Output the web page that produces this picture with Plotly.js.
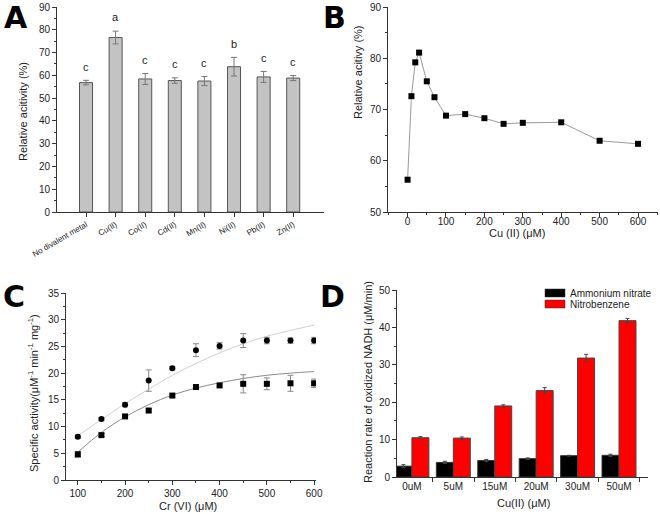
<!DOCTYPE html>
<html>
<head>
<meta charset="utf-8">
<script src="https://cdn.plot.ly/plotly-3.0.1.min.js"></script>
<style>html,body{margin:0;padding:0;background:#fff}#chart{width:660px;height:514px}</style>
</head>
<body>
<div id="chart"></div>
<script>
// Panel A
const metals = ["No divalent metal","Cu(II)","Co(II)","Cd(II)","Mn(II)","Ni(II)","Pb(II)","Zn(II)"];
const metalActivity = [56.8, 76.6, 58.4, 57.7, 57.5, 63.8, 59.3, 58.8];
const metalErr = [1.0, 2.8, 2.4, 1.2, 2.0, 4.1, 2.4, 1.1];
const metalLetters = ["c","a","c","c","c","b","c","c"];

// Panel B
const cuConc = [0, 10, 20, 30, 50, 70, 100, 150, 200, 250, 300, 400, 500, 600];
const cuActivity = [56.3, 72.6, 79.2, 81.1, 75.5, 72.4, 68.8, 69.1, 68.3, 67.2, 67.4, 67.5, 63.9, 63.3];

// Panel C
const crConc = [100, 150, 200, 250, 300, 350, 400, 450, 500, 550, 600];
const circleAct = [8.1, 11.4, 14.1, 18.6, 20.9, 24.3, 25.1, 26.1, 26.1, 26.1, 26.1];
const circleErr = [0.3, 0.3, 0.4, 2.0, 0.3, 1.2, 0.6, 1.3, 0.6, 0.5, 0.6];
const squareAct = [4.8, 8.4, 11.9, 13.0, 15.8, 17.4, 17.7, 18.0, 18.0, 18.1, 18.1];
const squareErr = [0.5, 0.3, 0.3, 0.3, 0.3, 0.3, 0.3, 1.7, 1.1, 1.5, 0.8];
const upperFit = [8.3, 11.3, 14.3, 17.0, 19.6, 21.8, 23.8, 25.5, 26.9, 28.0, 29.0];
const lowerFit = [5.2, 8.9, 11.8, 14.1, 15.9, 17.2, 18.2, 19.0, 19.6, 20.0, 20.3];

// Panel D
const cuLevels = ["0uM","5uM","15uM","20uM","30uM","50uM"];
const seriesNames = ["Ammonium nitrate", "Nitrobenzene"];
const ammonium = [2.9, 3.9, 4.4, 4.9, 5.7, 5.8];
const ammoniumErr = [0.4, 0.3, 0.3, 0.2, 0.1, 0.3];
const nitrobenzene = [10.5, 10.4, 19.0, 23.1, 31.8, 41.8];
const nitroErr = [0.3, 0.3, 0.3, 0.8, 1.0, 0.6];

const W = 660, H = 514;
const px = (a, b) => [a / W, b / W];
const py = (top, bot) => [1 - bot / H, 1 - top / H];
const F = "Liberation Sans, Arial, sans-serif";
const axBase = {
  showline: true, linecolor: "#333", linewidth: 1, ticks: "outside", ticklen: 4,
  tickcolor: "#333", showgrid: false, zeroline: false, mirror: false,
  tickfont: {family: F, size: 10, color: "#222"}
};
const barColors = ["#000000", "#ff0000"];

const traces = [
  {type: "bar", x: metals, y: metalActivity, xaxis: "x", yaxis: "y", width: 0.44,
   marker: {color: "#c3c3c3", line: {color: "#555", width: 1}},
   error_y: {type: "data", array: metalErr, visible: true, color: "#777", thickness: 1, width: 3}},
  {type: "scatter", mode: "lines+markers", x: cuConc, y: cuActivity, xaxis: "x2", yaxis: "y2",
   line: {color: "#9a9a9a", width: 1}, marker: {symbol: "square", size: 6, color: "#000"}},
  {type: "scatter", mode: "lines", x: crConc, y: upperFit, xaxis: "x3", yaxis: "y3",
   line: {color: "#d0d0d0", width: 1, shape: "spline"}},
  {type: "scatter", mode: "lines", x: crConc, y: lowerFit, xaxis: "x3", yaxis: "y3",
   line: {color: "#8a8a8a", width: 1, shape: "spline"}},
  {type: "scatter", mode: "markers", x: crConc, y: circleAct, xaxis: "x3", yaxis: "y3",
   marker: {symbol: "circle", size: 6, color: "#000"},
   error_y: {type: "data", array: circleErr, visible: true, color: "#888", thickness: 1, width: 3}},
  {type: "scatter", mode: "markers", x: crConc, y: squareAct, xaxis: "x3", yaxis: "y3",
   marker: {symbol: "square", size: 6, color: "#000"},
   error_y: {type: "data", array: squareErr, visible: true, color: "#888", thickness: 1, width: 3}},
  {type: "bar", name: seriesNames[0], x: cuLevels, y: ammonium, xaxis: "x4", yaxis: "y4",
   marker: {color: barColors[0], line: {color: "#333", width: 1}},
   error_y: {type: "data", array: ammoniumErr, visible: true, color: "#444", thickness: 1, width: 2}},
  {type: "bar", name: seriesNames[1], x: cuLevels, y: nitrobenzene, xaxis: "x4", yaxis: "y4",
   marker: {color: barColors[1], line: {color: "#444", width: 1}},
   error_y: {type: "data", array: nitroErr, visible: true, color: "#444", thickness: 1, width: 2}}
];

const annotations = [];
const label = (t, x, y) => annotations.push({text: "<b>" + t + "</b>", xref: "paper", yref: "paper",
  x: x / W, y: 1 - y / H, showarrow: false, xanchor: "center", yanchor: "middle",
  font: {family: "DejaVu Sans, Liberation Sans, sans-serif", size: 30, color: "#000"}});
label("A", 16, 18);
label("B", 334, 18);
label("C", 14, 296);
label("D", 332, 296);

const title = (t, x, y, angle) => annotations.push({text: t, xref: "paper", yref: "paper",
  x: x / W, y: 1 - y / H, showarrow: false, xanchor: "center", yanchor: "middle", textangle: angle,
  font: {family: F, size: 11, color: "#222"}});
title("Relative acitivity (%)", 23, 112, -90);
title("Relative acitivy (%)", 358, 72, -90);
title("Cu (II) (μM)", 517, 233, 0);
title("Specific activity(μM<sup>-1</sup> min<sup>-1</sup> mg<sup>-1</sup>)", 33, 393, -90);
title("Cr (VI) (μM)", 188, 506, 0);
title("Reaction rate of oxidized NADH (μM/min)", 368, 382, -90);
title("Cu(II) (μM)", 523, 503, 0);

metals.forEach((m, i) => annotations.push({text: metalLetters[i], x: m, y: metalActivity[i] + metalErr[i] + 6,
  xref: "x", yref: "y", showarrow: false, yanchor: "middle",
  font: {family: F, size: 11, color: "#222"}}));

// custom legend for panel D
const shapes = [];
seriesNames.forEach((n, i) => {
  const top = 289 + i * 11;
  shapes.push({type: "rect", xref: "paper", yref: "paper",
    x0: 545 / W, x1: 565 / W, y0: 1 - (top + 8) / H, y1: 1 - top / H,
    fillcolor: barColors[i], line: {color: "#333", width: 0.5}});
  annotations.push({text: n, xref: "paper", yref: "paper", x: 568 / W, y: 1 - (top + 4) / H,
    showarrow: false, xanchor: "left", yanchor: "middle", font: {family: F, size: 10, color: "#222"}});
});

const layout = {
  width: W, height: H, margin: {l: 0, r: 0, t: 0, b: 0},
  paper_bgcolor: "#fff", plot_bgcolor: "#fff",
  font: {family: F, color: "#222"},
  showlegend: false,
  barmode: "group", bargap: 0.18, bargroupgap: 0,
  xaxis: Object.assign({}, axBase, {domain: px(57, 324), anchor: "y", type: "category",
    range: [-0.98, 8.04], tickangle: -30, tickfont: {family: F, size: 8, color: "#222"}}),
  yaxis: Object.assign({}, axBase, {domain: py(7, 212), anchor: "x", range: [0, 90], dtick: 10,
    minor: {ticks: "outside", ticklen: 2, dtick: 5, tickcolor: "#333"}}),
  xaxis2: Object.assign({}, axBase, {domain: px(388, 658), anchor: "y2", range: [-51, 652], dtick: 100,
    ticklabelstandoff: -4,
    minor: {ticks: "outside", ticklen: 2, dtick: 50, tickcolor: "#333"}}),
  yaxis2: Object.assign({}, axBase, {domain: py(7, 212), anchor: "x2", range: [50, 90], dtick: 10,
    minor: {ticks: "outside", ticklen: 2, dtick: 5, tickcolor: "#333"}}),
  xaxis3: Object.assign({}, axBase, {domain: px(66, 316), anchor: "y3", range: [75, 604], tick0: 0, dtick: 100,
    minor: {ticks: "outside", ticklen: 2, dtick: 50, tickcolor: "#333"}}),
  yaxis3: Object.assign({}, axBase, {domain: py(293, 480), anchor: "x3", range: [0, 35], dtick: 5,
    minor: {ticks: "outside", ticklen: 2, dtick: 2.5, tickcolor: "#333"}}),
  xaxis4: Object.assign({}, axBase, {domain: px(397, 648), anchor: "y4", type: "category",
    range: [-0.36, 5.7], tickson: "boundaries"}),
  yaxis4: Object.assign({}, axBase, {domain: py(290, 477), anchor: "x4", range: [0, 50], dtick: 10,
    minor: {ticks: "outside", ticklen: 2, dtick: 5, tickcolor: "#333"}}),
  shapes: shapes,
  annotations: annotations
};

Plotly.newPlot("chart", traces, layout, {staticPlot: true, displayModeBar: false});
</script>
</body>
</html>
